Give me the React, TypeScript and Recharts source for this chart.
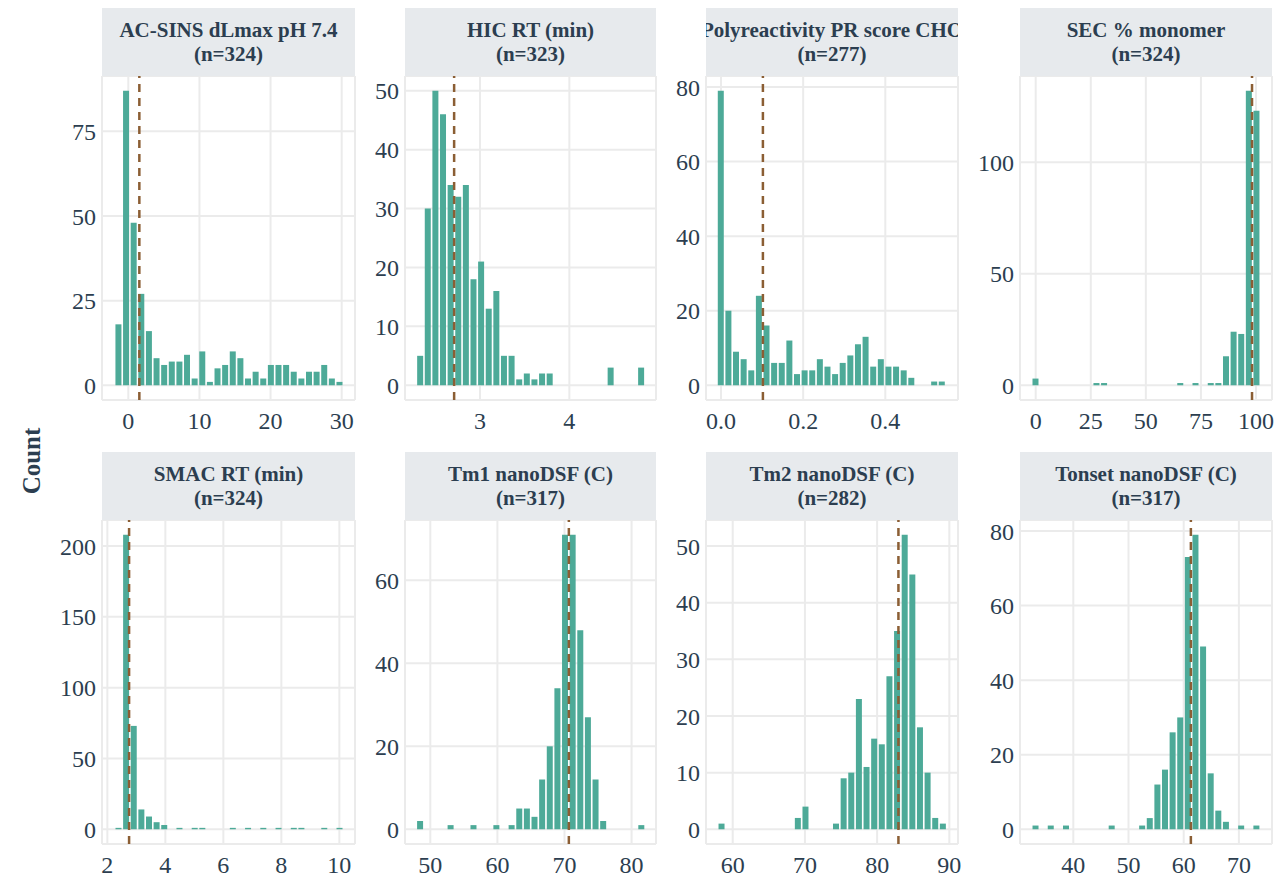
import { ComposedChart, Bar, XAxis, YAxis, CartesianGrid, ReferenceLine } from 'recharts'

const FONT = '"Liberation Serif", "Times New Roman", Times, serif'
const INK = '#2c3e50'
const BAR = '#4daa98'
const MEDIAN = '#8b5e34'
const GRID = '#ebebeb'
const STRIP = '#e7eaed'

// facet labels
const titles = [
  'AC-SINS dLmax pH 7.4', 'HIC RT (min)', 'Polyreactivity PR score CHO', 'SEC % monomer',
  'SMAC RT (min)', 'Tm1 nanoDSF (C)', 'Tm2 nanoDSF (C)', 'Tonset nanoDSF (C)',
]
const nObs = [324, 323, 277, 324, 324, 317, 282, 317]

// histogram counts, 30 bins each
const acSinsCounts = [18, 87, 48, 27, 16, 8, 6, 7, 7, 9, 2, 10, 1, 5, 6, 10, 8, 2, 4, 2, 6, 6, 6, 4, 2, 4, 4, 6, 2, 1]
const hicCounts = [5, 30, 50, 46, 34, 32, 34, 18, 21, 13, 16, 5, 5, 1, 2, 1, 2, 2, 0, 0, 0, 0, 0, 0, 0, 3, 0, 0, 0, 3]
const polyCounts = [79, 20, 9, 7, 4, 24, 16, 6, 6, 12, 3, 4, 4, 7, 5, 3, 6, 8, 11, 13, 5, 7, 5, 5, 4, 2, 0, 0, 1, 1]
const secCounts = [3, 0, 0, 0, 0, 0, 0, 0, 1, 1, 0, 0, 0, 0, 0, 0, 0, 0, 0, 1, 0, 1, 0, 1, 1, 13, 24, 23, 132, 123]
const smacCounts = [1, 208, 73, 14, 9, 5, 3, 0, 1, 0, 1, 1, 0, 0, 0, 1, 0, 1, 0, 1, 0, 1, 0, 1, 1, 0, 0, 1, 0, 1]
const tm1Counts = [2, 0, 0, 0, 1, 0, 0, 1, 0, 0, 1, 0, 1, 5, 5, 3, 12, 20, 34, 71, 71, 48, 27, 12, 2, 0, 0, 0, 0, 1]
const tm2Counts = [1, 0, 0, 0, 0, 0, 0, 0, 0, 0, 2, 4, 0, 0, 0, 1, 9, 10, 23, 11, 16, 15, 27, 35, 52, 45, 18, 10, 2, 1]
const tonsetCounts = [1, 0, 1, 0, 1, 0, 0, 0, 0, 0, 1, 0, 0, 0, 1, 3, 12, 16, 26, 30, 73, 79, 49, 15, 5, 2, 0, 1, 0, 1]
const countsList = [acSinsCounts, hicCounts, polyCounts, secCounts, smacCounts, tm1Counts, tm2Counts, tonsetCounts]

// centre of first bin and bin width per facet
const binStart = [-1.36, 2.332, 0.0, 0.0, 2.392, 48.51, 58.48, 33.19]
const binWidth = [1.0716, 0.0853, 0.01855, 3.459, 0.2628, 1.137, 1.057, 1.38]
const medians = [1.55, 2.71, 0.102, 98.2, 2.75, 70.65, 82.95, 61.3]

const xDomains = [
  [-3.7, 31.87], [2.16, 4.97], [-0.0365, 0.5769], [-7.13, 107.27],
  [1.816, 10.54], [46.23, 83.64], [56.3, 91.2], [30.34, 76.0],
]
const xTicks = [
  [0, 10, 20, 30], [3, 4], [0, 0.2, 0.4], [0, 25, 50, 75, 100],
  [2, 4, 6, 8, 10], [50, 60, 70, 80], [60, 70, 80, 90], [40, 50, 60, 70],
]
const yTicks = [
  [0, 25, 50, 75], [0, 10, 20, 30, 40, 50], [0, 20, 40, 60, 80], [0, 50, 100],
  [0, 50, 100, 150, 200], [0, 20, 40, 60], [0, 10, 20, 30, 40, 50], [0, 20, 40, 60, 80],
]

const COL_X = [102, 405, 706, 1020]
const COL_W = [253, 251, 252, 252]
const ROW_Y = [76, 520]
const PLOT_H = 324
const STRIP_H = 68
const Y_AXIS_W = 70
const X_AXIS_H = 40
const PAD_R = 20

const TICK = { fill: INK, fontSize: 24, fontFamily: FONT }

function Panel({ i }: { i: number }) {
  const counts = countsList[i]
  const data = counts.map((c, k) => ({ x: binStart[i] + k * binWidth[i], count: c }))
  const maxC = Math.max(...counts)
  const col = i % 4
  const row = Math.floor(i / 4)
  const left = COL_X[col]
  const top = ROW_Y[row]
  const w = COL_W[col]
  const fmt = i === 2 ? (v: number) => v.toFixed(1) : (v: number) => `${v}`

  return (
    <>
      <div style={{
        position: 'absolute', left, top: top - STRIP_H, width: w, height: STRIP_H,
        background: STRIP, display: 'flex', flexDirection: 'column', justifyContent: 'center',
        alignItems: 'center', overflow: 'hidden', fontFamily: FONT, fontWeight: 700,
        fontSize: 21, lineHeight: '24px', color: INK, whiteSpace: 'nowrap',
      }}>
        <div>{titles[i]}</div>
        <div>(n={nObs[i]})</div>
      </div>
      <div style={{ position: 'absolute', left: left - Y_AXIS_W, top }}>
        <ComposedChart
          width={w + Y_AXIS_W + PAD_R} height={PLOT_H + X_AXIS_H} data={data}
          margin={{ top: 0, right: PAD_R, bottom: 0, left: 0 }} barCategoryGap={0.6}
        >
          <CartesianGrid stroke={GRID} strokeWidth={2} />
          <XAxis
            type="number" dataKey="x" domain={xDomains[i]} ticks={xTicks[i]} allowDataOverflow
            interval={0} axisLine={false} tickLine={false} tickSize={0} tickMargin={12}
            height={X_AXIS_H} tick={TICK} tickFormatter={fmt}
          />
          <YAxis
            type="number" domain={[-0.05 * maxC, 1.05 * maxC]} ticks={yTicks[i]} allowDataOverflow
            interval={0} axisLine={false} tickLine={false} tickSize={0} tickMargin={6}
            width={Y_AXIS_W} tick={TICK}
          />
          <Bar dataKey="count" fill={BAR} isAnimationActive={false} />
          <ReferenceLine x={medians[i]} stroke={MEDIAN} strokeWidth={2.5} strokeDasharray="8 6" />
        </ComposedChart>
      </div>
    </>
  )
}

export default function App() {
  return (
    <div style={{ position: 'absolute', left: 0, top: 0, width: 1276, height: 881, background: '#fff', overflow: 'hidden' }}>
      {titles.map((_, i) => <Panel key={i} i={i} />)}
      <div style={{
        position: 'absolute', left: 32, top: 461, transform: 'translate(-50%, -50%) rotate(-90deg)',
        fontFamily: FONT, fontWeight: 700, fontSize: 25, color: INK, whiteSpace: 'nowrap',
      }}>Count</div>
    </div>
  )
}
